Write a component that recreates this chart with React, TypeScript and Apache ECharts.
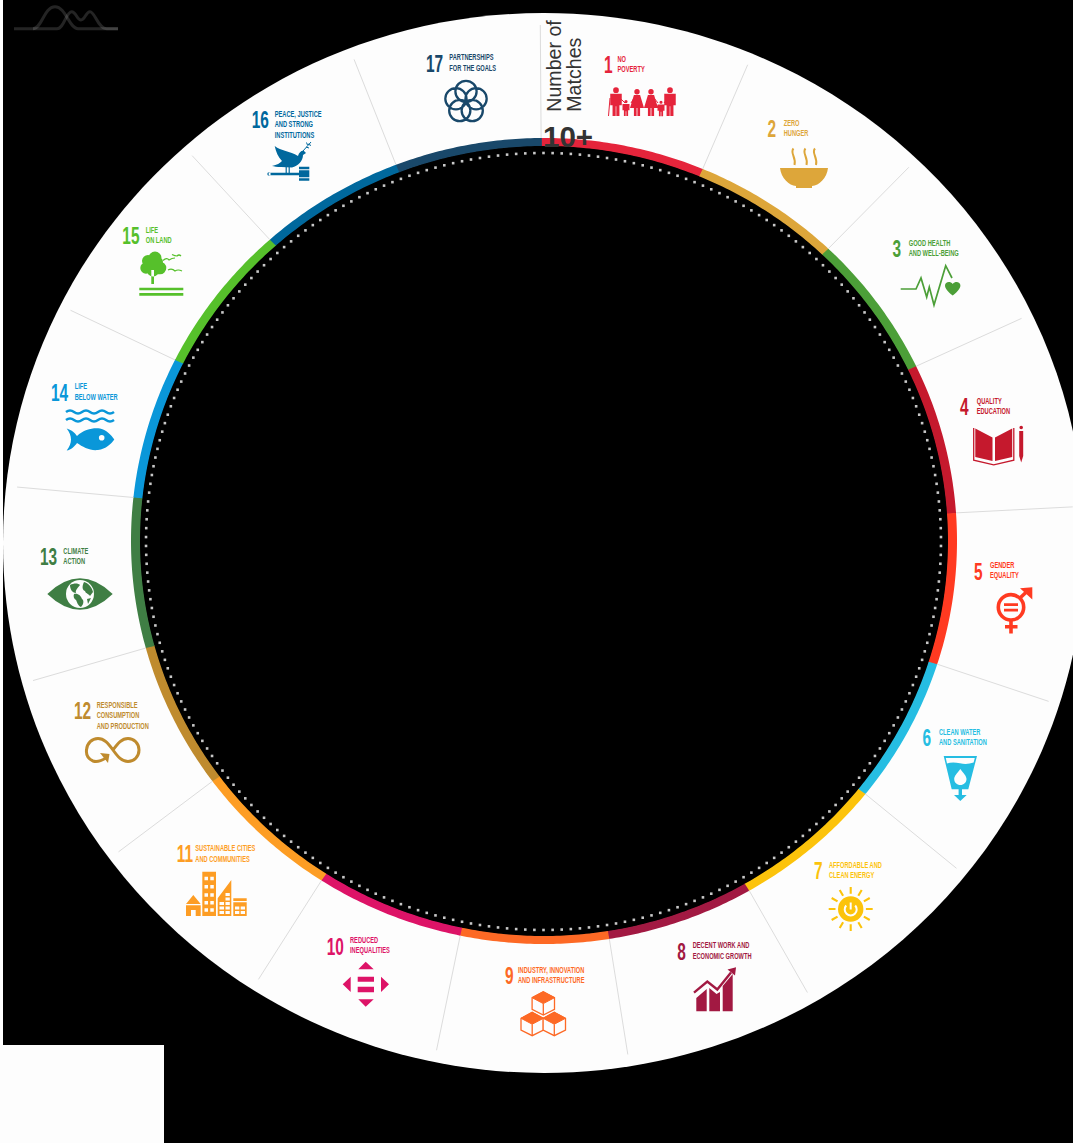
import React, { useEffect, useRef } from "react";
import * as echarts from "echarts";

const sdgNumbers = ["1","2","3","4","5","6","7","8","9","10","11","12","13","14","15","16","17"];
const sdgTitles = [
  "NO\nPOVERTY","ZERO\nHUNGER","GOOD HEALTH\nAND WELL-BEING","QUALITY\nEDUCATION","GENDER\nEQUALITY",
  "CLEAN WATER\nAND SANITATION","AFFORDABLE AND\nCLEAN ENERGY","DECENT WORK AND\nECONOMIC GROWTH",
  "INDUSTRY, INNOVATION\nAND INFRASTRUCTURE","REDUCED\nINEQUALITIES","SUSTAINABLE CITIES\nAND COMMUNITIES",
  "RESPONSIBLE\nCONSUMPTION\nAND PRODUCTION","CLIMATE\nACTION","LIFE\nBELOW WATER","LIFE\nON LAND",
  "PEACE, JUSTICE\nAND STRONG\nINSTITUTIONS","PARTNERSHIPS\nFOR THE GOALS",
];
const sdgColors = ["#E5243B","#DDA63A","#4C9F38","#C5192D","#FF3A21","#26BDE2","#FCC30B","#A21942","#FD6925","#DD1367","#FD9D24","#BF8B2E","#3F7E44","#0A97D9","#56C02B","#00689D","#19486A"];
// clockwise angle (degrees from 12 o'clock) at which each goal's arc starts
const segmentStarts = [-0.4,22.6,43.5,64.3,86,107.8,128.9,150.2,170.9,191.7,212.6,233.4,254.6,276.2,296.7,318.4,339];
const axisTitleLines = ["Number of", "Matches"];
const axisMaxLabel = "10+";

// layout only: [number left x, number centre y, title left x, title centre y]
const labelLayout = [
  [604,64,617.5,64.2],[767.5,128.5,783.7,128],[892.5,248.5,908.7,248],[960,406,976.7,406],[974,570.7,990,570.2],
  [922.5,737,939,737.3],[814,870.3,829,870.2],[677.3,950.7,692.7,950.5],[505,974.7,518,974.8],[326.7,945.7,350,945.3],
  [176.7,853.5,195.3,853.5],[74,710.3,96.7,715.2],[40,555.8,63.3,555.7],[51,392,74.7,391.5],[122.3,235,145.7,234.7],
  [251.7,119.5,274.7,124.3],[426,62.8,449.3,62.5],
];

const RING_BG = "#fdfdfd";
const f = (n: number) => n.toFixed(2);
const circ = (x: number, y: number, r: number) =>
  `M${f(x - r)} ${f(y)}A${f(r)} ${f(r)} 0 1 0 ${f(x + r)} ${f(y)}A${f(r)} ${f(r)} 0 1 0 ${f(x - r)} ${f(y)}Z`;
const poly = (pts: number[][]) => "M" + pts.map((p) => `${f(p[0])} ${f(p[1])}`).join("L") + "Z";
const open = (pts: number[][]) => "M" + pts.map((p) => `${f(p[0])} ${f(p[1])}`).join("L");
const rect = (x0: number, y0: number, x1: number, y1: number) => poly([[x0,y0],[x1,y0],[x1,y1],[x0,y1]]);

function man(cx: number, top: number, h: number, w: number) {
  const r = h * 0.1, y0 = top + 2 * r + 0.7, hip = y0 + h * 0.4;
  return circ(cx, top + r, r) + poly([[cx-w/2,y0],[cx+w/2,y0],[cx+w/2,hip],[cx+w*.3,hip],[cx+w*.3,top+h],[cx+.3,top+h],[cx+.3,hip+1],[cx-.3,hip+1],[cx-.3,top+h],[cx-w*.3,top+h],[cx-w*.3,hip],[cx-w/2,hip]]);
}
function woman(cx: number, top: number, h: number, w: number) {
  const r = h * 0.1, y0 = top + 2 * r + 0.7, hip = y0 + h * 0.48;
  return circ(cx, top + r, r) + poly([[cx-w*.22,y0],[cx+w*.22,y0],[cx+w*.5,hip],[cx+w*.22,hip],[cx+w*.22,top+h],[cx+.4,top+h],[cx+.4,hip],[cx-.4,hip],[cx-.4,top+h],[cx-w*.22,top+h],[cx-w*.22,hip],[cx-w*.5,hip]]);
}
function cube(cx: number, cy: number, c: string) {
  const top = [cx, cy - 11.7], tr = [cx + 11.2, cy - 5.7], br = [cx + 11.2, cy + 6], bot = [cx, cy + 11.7], bl = [cx - 11.2, cy + 6], tl = [cx - 11.2, cy - 5.7], mid = [cx, cy + 0.2];
  return [
    { d: poly([top,tr,br,bot,bl,tl]), fill: RING_BG, stroke: c, lw: 1.3 },
    { d: poly([top,tr,mid,tl]), fill: c, stroke: c, lw: 1 },
    { d: open([mid,bot]), stroke: c, lw: 1.3 },
  ];
}
const sunRays = Array.from({ length: 12 }, (_, i) => {
  const a = (i * Math.PI) / 6;
  return `M${f(850.7 + 15.2 * Math.sin(a))} ${f(909 - 15.2 * Math.cos(a))}L${f(850.7 + 22 * Math.sin(a))} ${f(909 - 22 * Math.cos(a))}`;
}).join("");
const wave = (y: number) => `M66 ${y}Q70 ${y-3} 74 ${y}T82 ${y}T90 ${y}T98 ${y}T106 ${y}T114 ${y}`;
const petals = [0,1,2,3,4].map((k) => {
  const a = (k * 2 * Math.PI) / 5;
  return circ(466 + 10.6 * Math.sin(a), 102 - 10.6 * Math.cos(a), 10.6);
}).join("");

type Part = { d: string; fill?: string; stroke?: string; lw?: number };
const C = sdgColors;
const iconParts: Part[][] = [
  [ { d: man(616,87.3,28.7,11.5) + man(626,100,16,7) + woman(637,89,27,14) + woman(651,89,27,14) + man(661,100.7,15.5,7) + man(670,87.3,28.7,11.5), fill: C[0] },
    { d: open([[610,98],[608.5,116]]) + open([[621,99],[625,103]]) + open([[631,103],[634,98]]) + open([[654,98],[658,103]]) + open([[664,103],[667,99]]), stroke: C[0], lw: 1 } ],
  [ { d: "M780 168L828 168C827 178 819 185.5 812 186L812 188L796 188L796 186C789 185.5 781 178 780 168Z", fill: C[1] },
    { d: "M793.5 148.5C789.5 153 796.5 157 794.5 165M805.5 148.5C801.5 153 808.5 157 806.5 165M815 148.5C811 153 818 157 816 165", stroke: C[1], lw: 2 } ],
  [ { d: open([[900.7,289],[916,289],[921,278],[926.7,297],[929.3,287],[934,305],[945.7,265.7],[952,278]]), stroke: C[2], lw: 1.7 },
    { d: "M952.7 295.5C947 291 945 288 945 285.5C945 282 950 280.5 952.7 284C955.4 280.5 960.4 282 960.4 285.5C960.4 288 958.4 291 952.7 295.5Z", fill: C[2] } ],
  [ { d: poly([[975.3,428.5],[992.5,437.5],[992.5,461],[975.3,457]]) + poly([[1012.2,428.5],[995,437.5],[995,461],[1012.2,457]]), fill: C[3] },
    { d: open([[973.7,428],[973.7,460.2],[993.7,464.8],[1013.8,460.2],[1013.8,428]]), stroke: C[3], lw: 1.3 },
    { d: circ(1021.2,427.5,1.8) + poly([[1019.2,431],[1023.2,431],[1023.2,456],[1021.2,462.5],[1019.2,456]]), fill: C[3] } ],
  [ { d: circ(1011,607.3,12.7), stroke: C[4], lw: 3.6 },
    { d: rect(1004,603.2,1018,606) + rect(1004,608.8,1018,611.6) + rect(1009.2,621,1012.8,633.5) + rect(1005,625,1017.5,628.4) + poly([[1020,588.3],[1032.3,587.3],[1032.3,599.5]]), fill: C[4] },
    { d: open([[1020.5,597.5],[1028,590.5]]), stroke: C[4], lw: 3.6 } ],
  [ { d: poly([[943.7,756],[977,756],[968.3,789.3],[962,789.3],[962,795],[966.7,795],[960.3,801],[954,795],[958.6,795],[958.6,789.3],[951.7,789.3]]), fill: C[5] },
    { d: "M945.8 758L974.8 758L973.6 762.5Q967 765 960 763.3Q952 761.5 947 763.6Z" + "M960.3 769C964 774 966.5 776 966.5 779C966.5 782.5 963.7 785 960.3 785C957 785 954.2 782.5 954.2 779C954.2 776 956.7 774 960.3 769Z", fill: RING_BG } ],
  [ { d: circ(850.7,909,12.7), fill: C[6] },
    { d: sunRays, stroke: C[6], lw: 2.1 },
    { d: "M846.2 905.5A6 6 0 1 0 855.2 905.5M850.7 902.5L850.7 909.5", stroke: RING_BG, lw: 2 } ],
  [ { d: poly([[696.3,998],[706.7,989],[706.7,1011.3],[696.3,1011.3]]) + poly([[709.3,988],[716.5,994],[720,992],[720,1011.3],[709.3,1011.3]]) + poly([[722.7,986],[732.7,974],[732.7,1011.3],[722.7,1011.3]]) , fill: C[7] },
    { d: open([[694,992.7],[707.3,981.5],[717.3,989.5],[731,972.5]]), stroke: C[7], lw: 2.4 },
    { d: poly([[727.5,969.5],[736,967.3],[735,975.5]]), fill: C[7] } ],
  [ ...cube(543.3,1003.4,C[8]), ...cube(532.2,1024,C[8]), ...cube(554.3,1024,C[8]) ],
  [ { d: poly([[365.7,961.7],[358.3,969.3],[373.7,969.3]]) + poly([[365.7,1006.7],[358.3,999.3],[373.7,999.3]]) + poly([[342.7,984.3],[350.7,976.7],[350.7,992]]) + poly([[389,984.3],[381,976.7],[381,992]]) + rect(357.7,976.7,374,981.7) + rect(357.7,986.7,374,992.3), fill: C[9] } ],
  [ { d: poly([[193.3,895],[186,904],[200.7,904]]) + rect(186,905.3,200.7,916) + rect(202.3,871.7,216,916) + poly([[231.3,880],[231.3,916],[217.7,916],[217.7,898.3]]) + rect(233.3,898.3,246.7,901) + rect(233.3,902.3,246.7,916), fill: C[10] },
    { d: rect(191,910,195.7,916) + [876.7,885,893.3,901,908.3].map((y) => rect(204.5,y,208,y+3.5) + rect(210.3,y,213.8,y+3.5)).join("") + [902,906.5,911].map((y) => rect(219.5,y,224,y+3) + rect(225.5,y,229.8,y+3) + (y>902 ? rect(235,y,239.3,y+3)+rect(240.7,y,245,y+3):"")).join("") + rect(225.5,893,229.8,896) + rect(225.5,897.5,229.8,900.5), fill: RING_BG } ],
  [ { d: "M106 758C101 761 96 762 93 761C88 759 86 755 86.5 750C87 743 92 738.5 98 738.5C104 738.5 108 743 113 750C118 757 122 761.5 128 761.5C134 761.5 139 756.5 139 750C139 743.5 134 738.5 128 738.5C122 738.5 118 743 113 750", stroke: C[11], lw: 3 },
    { d: poly([[100,753],[109.5,754],[108,763]]), fill: C[11] } ],
  [ { d: "M47.3 594Q80 562.6 112.7 594Q80 625.4 47.3 594Z", fill: C[12] },
    { d: circ(80,594,14), fill: RING_BG },
    { d: "M70 585C74 583 78 583 80 585C78 588 75 590 76 593C73 593 70 590 70 585ZM74 594C78 593 81 596 82 599C84 600 84 604 81 607C78 606 77 602 76 600C74 599 73 596 74 594ZM84 582C88 583 92 587 93 592L90 596C88 593 86 594 85 591C82 590 82 586 84 582ZM87 599L91 598L88 604Z", fill: C[12] } ],
  [ { d: wave(412) + wave(420), stroke: C[13], lw: 2.6 },
    { d: "M66.7 428.5C72 430 75 433 77 436C84 429 94 427.5 100 428.5C107 430 111 435 114.3 439.5C111 444 106 449 98 450C90 451 83 447 77 443C75 446 71 450 66.7 450.5C69.5 447 71 443 71 439.5C71 436 69.5 432 66.7 428.5Z", fill: C[13] },
    { d: circ(101.7,437.7,2.8), fill: RING_BG } ],
  [ { d: circ(155,258,6.5) + circ(148,261,6) + circ(146,268,5.7) + circ(153,270,6.5) + circ(160,268,6.3) + circ(158,262,5) + rect(151.3,270,154,284), fill: C[14] },
    { d: rect(139.3,287.7,183.3,290.3) + rect(139.3,293,183.3,295.7), fill: C[14] },
    { d: "M163 260.5Q167 257 169 260Q172 258 175 258M168 270Q172 268 175 271Q178 269 182 271M172 254.5Q175 256 177 256Q179 254 181 256", stroke: C[14], lw: 1.2 } ],
  [ { d: "M274.7 146C281 151 290 151 298 156C299 152 302 150 304 151L306 153L303 155C303 161 298 166 292 167.5L281 167C277 167 274 166.5 272 166C277 165 280 163 282 161C278 157 276 152 274.7 146Z", fill: C[15] },
    { d: "M303 151C306 148 308 145 311 142M306 147L309 148M308 144L311 145.5M307.5 145L306.5 142.5", stroke: C[15], lw: 1 },
    { d: rect(268.7,172.8,299,175.2) + rect(299,166.7,309.3,180.7) + circ(269,174,1.7) + rect(285.6,166,286.8,173) + rect(288.6,166,289.8,173), fill: C[15] },
    { d: rect(298.5,169.2,310,170.2) + rect(298.5,177.2,310,178.2), fill: RING_BG } ],
  [ { d: petals, stroke: C[16], lw: 2.3 } ],
];
iconParts.forEach((parts, i) =>
  parts.forEach((p, j) => echarts.graphic.registerShape(`sdg_${i}_${j}`, echarts.graphic.extendPath(p.d, {})))
);
echarts.graphic.registerShape("logo_a", echarts.graphic.extendPath("M14 28.7L33 28.7C42 28.7 44 6.7 55 6.7C66 6.7 69 28.7 78 28.7L118 28.7", {}));
echarts.graphic.registerShape("logo_b", echarts.graphic.extendPath("M33 28.7L57 28.7C64 28.7 66 11.7 71.7 11.7C76 11.7 77 20 81 20C85 20 86 11.7 90 11.7C95 11.7 98 28.7 106.7 28.7L118 28.7", {}));

const NARROW = '"Liberation Sans Narrow", "Liberation Sans", sans-serif';
const SANS = '"Liberation Sans", Arial, sans-serif';

export default function App() {
  const ref = useRef<HTMLDivElement>(null);
  useEffect(() => {
    document.body.style.margin = "0";
    document.body.style.background = "#ffffff";
    const chart = echarts.init(ref.current!, undefined, { renderer: "svg" });
    const data = segmentStarts.map((s, i) => [s, i < 16 ? segmentStarts[i + 1] : segmentStarts[0] + 360, i]);
    const renderItem = (_: any, api: any) => {
      const a0 = api.value(0), a1 = api.value(1), idx = api.value(2);
      const o = api.coord([0, 0]);
      const pt = (ang: number, rx: number, ry: number, cy = 541) => {
        const p = api.coord([1, ang]);
        return [544 + ((p[0] - o[0]) / 100) * rx, cy + ((p[1] - o[1]) / 100) * ry];
      };
      const outer: number[][] = [], inner: number[][] = [];
      const n = 40;
      for (let k = 0; k <= n; k++) {
        const a = a0 + ((a1 + 0.1 - a0) * k) / n;
        outer.push(pt(a, 413, 403));
        inner.unshift(pt(a, 404, 395));
      }
      const s0 = pt(a0, 413, 403), s1 = pt(a0, 530, 518, 543);
      return {
        type: "group",
        children: [
          { type: "polygon", shape: { points: outer.concat(inner) }, style: { fill: sdgColors[idx] } },
          { type: "line", shape: { x1: s0[0], y1: s0[1], x2: s1[0], y2: s1[1] }, style: { stroke: "#dcdcdc", lineWidth: 1 } },
        ],
      };
    };
    const elements: any[] = [
      { type: "rect", z: -5, silent: true, shape: { x: 3, y: 0, width: 1070, height: 1143 }, style: { fill: "#000" } },
      { type: "rect", z: -4, silent: true, shape: { x: 0, y: 1045, width: 164, height: 98 }, style: { fill: RING_BG } },
      { type: "ellipse", z: -3, silent: true, shape: { cx: 544, cy: 543, rx: 541, ry: 530 }, style: { fill: RING_BG } },
      { type: "ellipse", z: -2, silent: true, shape: { cx: 544, cy: 541, rx: 405, ry: 396 }, style: { fill: "#000", stroke: "#999", lineWidth: 1 } },
      { type: "logo_a", z: 5, silent: true, style: { fill: "none", stroke: "rgba(255,255,255,0.14)", lineWidth: 3 } },
      { type: "logo_b", z: 5, silent: true, style: { fill: "none", stroke: "rgba(255,255,255,0.14)", lineWidth: 3 } },
      { type: "text", z: 12, silent: true, x: 553.5, y: 111.7, rotation: Math.PI / 2, style: { text: axisTitleLines[0], font: `19.6px ${SANS}`, fill: "#333", align: "left", verticalAlign: "middle" } },
      { type: "text", z: 12, silent: true, x: 574, y: 111.7, rotation: Math.PI / 2, style: { text: axisTitleLines[1], font: `19.6px ${SANS}`, fill: "#333", align: "left", verticalAlign: "middle" } },
      { type: "text", z: 12, silent: true, x: 543, y: 136, style: { text: axisMaxLabel, font: `bold 29.5px ${SANS}`, fill: "#333", align: "left", verticalAlign: "middle" } },
    ];
    // decorative dotted guide just inside the ring
    const DOTS = 274;
    for (let k = 0; k < DOTS; k++) {
      const a = (k / DOTS) * 2 * Math.PI;
      elements.push({
        type: "rect", z: -1, silent: true,
        shape: { x: 543.5 + 397.5 * Math.sin(a) - 1.3, y: 541.5 - 388.5 * Math.cos(a) - 1.3, width: 2.6, height: 2.6 },
        style: { fill: "#c8c8c8" },
      });
    }
    iconParts.forEach((parts, i) =>
      parts.forEach((p, j) =>
        elements.push({
          type: `sdg_${i}_${j}`, z: 6, silent: true,
          style: { fill: p.fill ?? "none", stroke: p.stroke ?? "none", lineWidth: p.lw ?? 0, lineJoin: "miter" },
        })
      )
    );
    sdgNumbers.forEach((num, i) => {
      const [nx, ny, tx, ty] = labelLayout[i];
      elements.push({ type: "text", z: 7, silent: true, x: nx, y: ny, scaleX: 0.63, style: { text: num, font: `bold 24.5px ${NARROW}`, fill: sdgColors[i], align: "left", verticalAlign: "middle" } });
      elements.push({ type: "text", z: 7, silent: true, x: tx, y: ty, scaleX: 0.6, style: { text: sdgTitles[i], font: `bold 9.5px ${NARROW}`, fill: sdgColors[i], align: "left", verticalAlign: "middle", lineHeight: 10.3 } });
    });
    chart.setOption({
      animation: false,
      polar: { center: [544, 541], radius: 100 },
      angleAxis: { type: "value", min: 0, max: 360, startAngle: 90, clockwise: true, show: false },
      radiusAxis: { type: "value", min: 0, max: 1, show: false },
      series: [{ type: "custom", coordinateSystem: "polar", silent: true, z: 2, renderItem, data, clip: false }],
      graphic: { elements },
    });
    return () => chart.dispose();
  }, []);
  return <div ref={ref} style={{ position: "absolute", left: 0, top: 0, width: 1073, height: 1143 }} />;
}
